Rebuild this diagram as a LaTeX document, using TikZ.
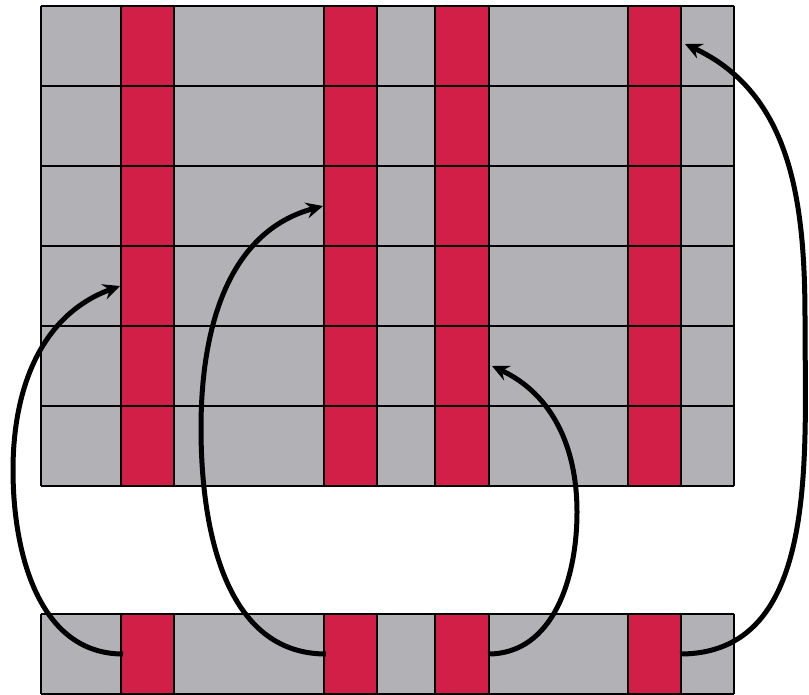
\documentclass[tikz,border=0pt]{standalone}
\usetikzlibrary{arrows.meta}
\definecolor{cellgray}{RGB}{178,177,182}
\definecolor{colred}{RGB}{210,31,71}
\tikzset{
  gridline/.style={line width=2.2pt, black},
  moveline/.style={line width=5pt, black, -{Stealth[length=17pt,width=16pt,inset=6pt]}}
}
\begin{document}
\begin{tikzpicture}[x=1pt, y=-1pt]
    \useasboundingbox (0,0) rectangle (809,694);
    % matrix and single row
    \fill[cellgray] (41,6) rectangle (734,486);
    \fill[cellgray] (41,614) rectangle (734,694);
    \foreach \a/\b in {121/174, 324/377, 435/489, 628/681} {
        \fill[colred] (\a,6) rectangle (\b,486);
        \fill[colred] (\a,614) rectangle (\b,694);
    }
    \foreach \y in {6,86,166,246,326,406,486}
        \draw[gridline] (41,\y) -- (734,\y);
    \foreach \x in {41,121,174,324,377,435,489,628,681,734} {
        \draw[gridline] (\x,6) -- (\x,486);
        \draw[gridline] (\x,614) -- (\x,694);
    }
    \draw[gridline] (41,614) -- (734,614);
    \draw[gridline] (41,694) -- (734,694);
    % start points on the row, targets in the matrix
    \coordinate (S1) at (123,654);
    \coordinate (S2) at (326,654);
    \coordinate (S3) at (488,654);
    \coordinate (S4) at (680,654);
    \coordinate (T1) at (120,286);
    \coordinate (T2) at (323,206);
    \coordinate (T3) at (492,366);
    \coordinate (T4) at (685,44);
    \coordinate (M1) at (13,470);
    \coordinate (M2) at (201,428);
    \coordinate (M3) at (577,512);
    \coordinate (M4) at (805,320);
    \draw[moveline] (S1) to[out=180, in=-90] (M1) to[out=90, in=200] (T1);
    \draw[moveline] (S2) to[out=180, in=-90] (M2) to[out=90, in=195] (T2);
    \draw[moveline] (S3) to[out=0, in=-90] (M3) to[out=90, in=-25] (T3);
    \draw[moveline] (S4) to[out=0, in=-90] (M4) to[out=90, in=-25] (T4);
\end{tikzpicture}
\end{document}
